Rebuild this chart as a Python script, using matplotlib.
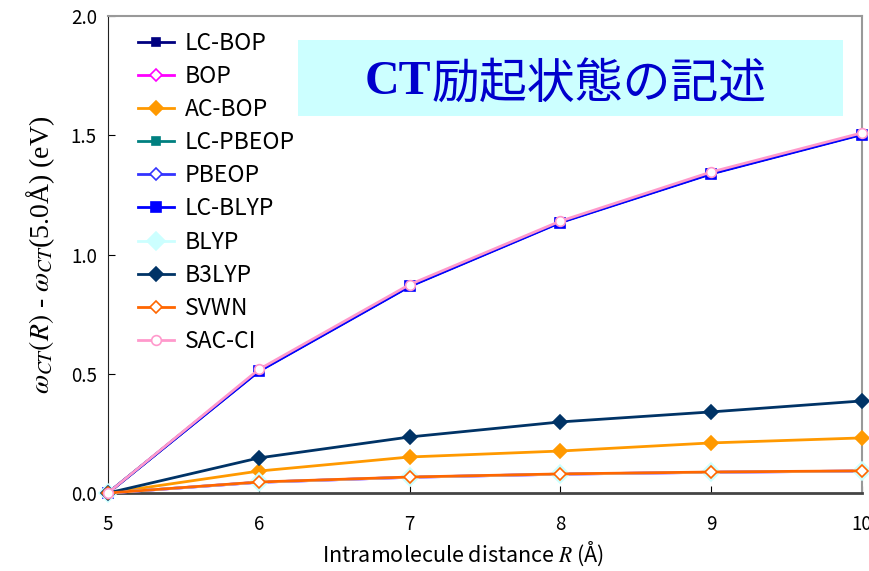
"""CT excitation energy vs intramolecular distance for several functionals
"""
import matplotlib
matplotlib.use("Agg")
import matplotlib.pyplot as plt
from matplotlib.patches import Rectangle

# intramolecule distance R (angstrom)
R = [5, 6, 7, 8, 9, 10]

# omega_CT(R) - omega_CT(5.0 A) in eV
lc_bop = [0.0, 0.512, 0.868, 1.136, 1.340, 1.505]
bop = [0.0, 0.045, 0.066, 0.079, 0.087, 0.092]
ac_bop = [0.0, 0.092, 0.151, 0.176, 0.210, 0.231]
lc_pbeop = [0.0, 0.512, 0.868, 1.136, 1.340, 1.505]
pbeop = [0.0, 0.045, 0.066, 0.079, 0.087, 0.092]
lc_blyp = [0.0, 0.510, 0.866, 1.134, 1.338, 1.503]
blyp = [0.0, 0.045, 0.066, 0.079, 0.087, 0.092]
b3lyp = [0.0, 0.147, 0.235, 0.298, 0.340, 0.386]
svwn = [0.0, 0.046, 0.067, 0.080, 0.088, 0.093]
sac_ci = [0.0, 0.518, 0.874, 1.140, 1.346, 1.510]

x_ticks = [5, 6, 7, 8, 9, 10]
y_ticks = [0.0, 0.5, 1.0, 1.5, 2.0]

# (label, values, color, marker, filled, markersize, zorder)
series = [
    ("LC-BOP", lc_bop, "#000080", "s", True, 6, 3),
    ("BOP", bop, "#FF00FF", "D", False, 6, 3),
    ("AC-BOP", ac_bop, "#FF9900", "D", True, 7, 3),
    ("LC-PBEOP", lc_pbeop, "#008080", "s", True, 6, 3),
    ("PBEOP", pbeop, "#3333FF", "D", False, 6, 3),
    ("LC-BLYP", lc_blyp, "#0000FF", "s", True, 7, 4),
    ("BLYP", blyp, "#CCFFFF", "D", True, 9, 4),
    ("B3LYP", b3lyp, "#003366", "D", True, 7, 4),
    ("SVWN", svwn, "#FF6600", "D", False, 6, 5),
    ("SAC-CI", sac_ci, "#FF99CC", "o", False, 7, 5),
]

plt.rcParams["font.family"] = ["Noto Sans CJK JP", "DejaVu Sans"]
plt.rcParams["mathtext.fontset"] = "stix"

fig = plt.figure(figsize=(8.7, 5.71), dpi=100)
ax = fig.add_axes([108 / 870, 78 / 571, 754 / 870, 477 / 571])

for label, vals, col, mk, filled, ms, z in series:
    ax.plot(R, vals, color=col, lw=2, marker=mk, markersize=ms,
            markerfacecolor=col if filled else "white",
            markeredgecolor=col, markeredgewidth=1.2,
            label=label, zorder=z, clip_on=False)

ax.set_xlim(5, 10)
ax.set_ylim(0, 2.0)
ax.set_xticks(x_ticks)
ax.set_yticks(y_ticks)
ax.set_xticklabels([str(t) for t in x_ticks])
ax.set_yticklabels(["%.1f" % t for t in y_ticks])
ax.tick_params(direction="in", length=5, labelsize=13.5, pad=8)
ax.tick_params(axis="x", pad=15)

ax.spines["left"].set_color("#222222")
ax.spines["bottom"].set_color("#444444")
ax.spines["bottom"].set_linewidth(2)
ax.spines["top"].set_color("#999999")
ax.spines["right"].set_color("#999999")
ax.spines["top"].set_linewidth(1.5)
ax.spines["right"].set_linewidth(1.5)

ax.set_xlabel(r"Intramolecule distance $R$ (Å)", fontsize=15.5)
ax.xaxis.set_label_coords(0.471, -0.097)
ax.set_ylabel(r"$\omega_{CT}(R)$ - $\omega_{CT}$(5.0Å) (eV)",
              fontsize=20, labelpad=10, family="Liberation Serif")

leg = ax.legend(loc="upper left", bbox_to_anchor=(0.018, 1.0), frameon=False,
                fontsize=16.5, handlelength=1.6, labelspacing=0.44,
                handletextpad=0.45, borderaxespad=0.3)

# title box
ax.add_patch(Rectangle((0.252, 0.79), 0.723, 0.16, transform=ax.transAxes,
                       facecolor="#CCFFFF", edgecolor="none", zorder=1))
ax.text(0.429, 0.862, "CT", transform=ax.transAxes, fontsize=34.5,
        color="#0000CC", ha="right", va="center", fontweight="bold",
        family="Liberation Serif", zorder=2)
ax.text(0.429, 0.856, "励起状態の記述", transform=ax.transAxes, fontsize=34.5,
        color="#0000CC", ha="left", va="center", zorder=2)

fig.savefig("out.png", dpi=100)
